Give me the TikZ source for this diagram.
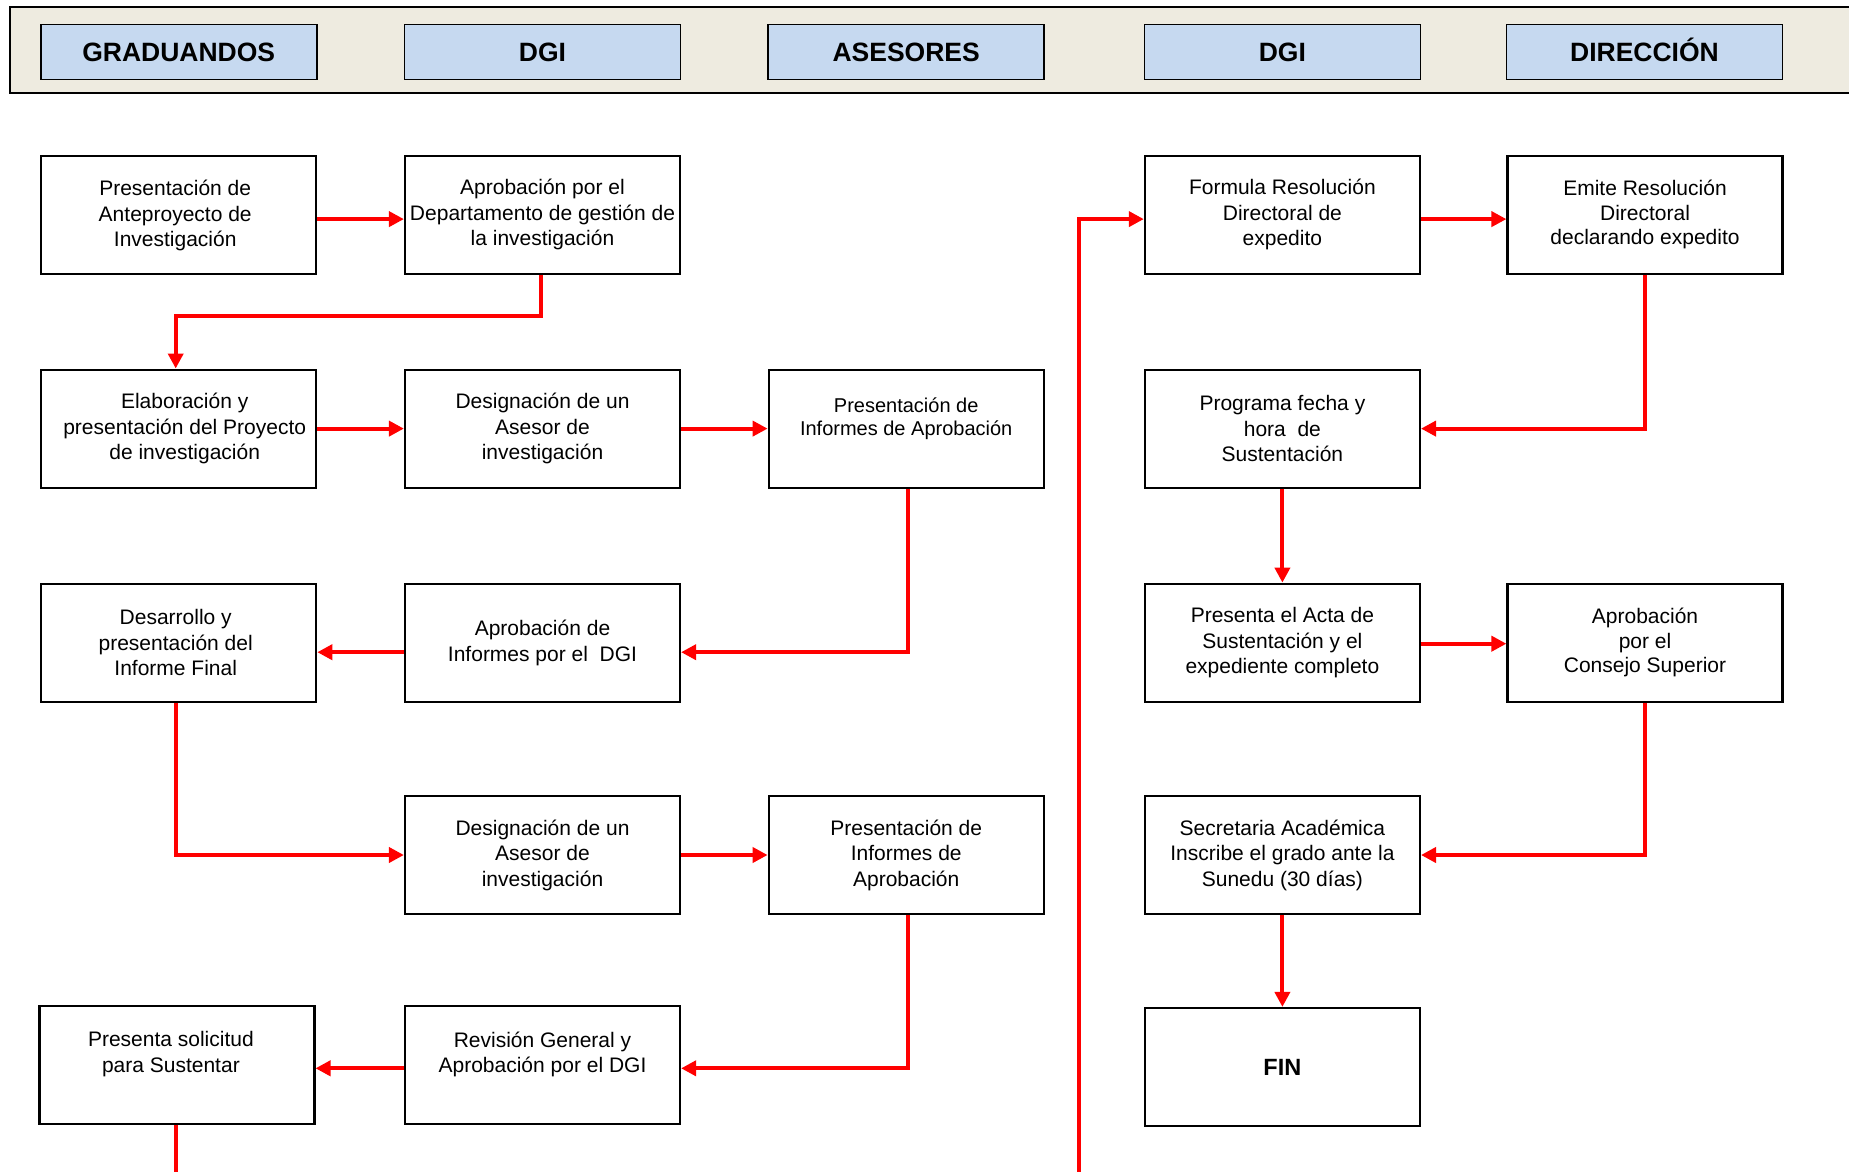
\documentclass[tikz,border=0pt]{standalone}
\usepackage{fontspec}
\setmainfont{Liberation Sans}
\usetikzlibrary{arrows.meta}
\definecolor{bandfill}{HTML}{EEEBE0}
\definecolor{headfill}{HTML}{C6D9F0}
\begin{document}
\begin{tikzpicture}[x=1pt,y=-1pt,
  box/.style={draw, line width=2.2pt, minimum width=275pt, minimum height=118pt, inner sep=0pt, align=center, font=\fontsize{21}{25.5}\selectfont},
  small/.style={font=\fontsize{20}{23.8}\selectfont},
  head/.style={draw, line width=1.8pt, fill=headfill, minimum width=276pt, minimum height=55pt, inner sep=0pt, text height=19pt, text depth=0pt, font=\fontsize{26.5}{30}\selectfont\bfseries},
  arr/.style={draw=red, line width=4pt, -{Triangle[length=15pt,width=15pt]}}]
\useasboundingbox (0,0) rectangle (1849,1172);
\clip (0,0) rectangle (1849,1172);
% header band
\draw[line width=2.5pt, fill=bandfill] (10,7) rectangle (1880,93);
\node[head] (h1) at (178.7,52) {GRADUANDOS};
\node[head] (h2) at (542.5,52) {DGI};
\node[head] (h3) at (906.2,52) {ASESORES};
\node[head] (h4) at (1282.4,52) {DGI};
\node[head] (h5) at (1644.5,52) {DIRECCIÓN};
% row 1
\node[box] (ante) at (178.7,214.6) {\\[-8pt]\hspace*{-7pt}Presentación de\\\hspace*{-7pt}Anteproyecto de\\\hspace*{-7pt}Investigación};
\node[box] (aprob) at (542.5,214.6) {Aprobación por el\\Departamento de gestión de\\la investigación};
\node[box] (form) at (1282.4,214.6) {Formula Resolución\\Directoral de\\expedito};
\node[box, font=\fontsize{21}{24.5}\selectfont] (emite) at (1645,214.6) {Emite Resolución\\Directoral\\declarando expedito};
% row 2
\node[box] (elab) at (178.7,428.6) {\hspace*{12pt}Elaboración y\\\hspace*{12pt}presentación del Proyecto\\\hspace*{12pt}de investigación};
\node[box] (desig1) at (542.5,428.6) {Designación de un\\Asesor de\\investigación};
\node[box, small] (pres1) at (906.2,428.6) {Presentación de\\Informes de Aprobación\\\mbox{}};
\node[box] (prog) at (1282.4,428.6) {Programa fecha y\\hora\ \ de\\Sustentación};
% row 3
\node[box] (desa) at (178.7,642.7) {\hspace*{-6pt}Desarrollo y\\\hspace*{-6pt}presentación del\\\hspace*{-6pt}Informe Final};
\node[box] (apinf) at (542.5,642.7) {Aprobación de\\Informes por el\ \ DGI};
\node[box] (acta) at (1282.4,642.7) {Presenta el Acta de\\Sustentación y el\\expediente completo};
\node[box, font=\fontsize{21}{24.5}\selectfont] (cons) at (1645,642.7) {Aprobación\\por el\\Consejo Superior};
% row 4
\node[box] (desig2) at (542.5,855) {Designación de un\\Asesor de\\investigación};
\node[box] (pres2) at (906.2,855) {Presentación de\\Informes de\\Aprobación};
\node[box] (secr) at (1282.4,855) {Secretaria Académica\\Inscribe el grado ante la\\Sunedu (30 días)};
% row 5
\node[box] (sol) at (176.9,1064.8) {\hspace*{-12pt}Presenta solicitud\\\hspace*{-12pt}para Sustentar\\\mbox{}};
\node[box] (rev) at (542.5,1064.8) {Revisión General y\\Aprobación por el DGI\\\mbox{}};
\node[box, font=\fontsize{23.5}{28}\selectfont\bfseries] (fin) at (1282.4,1067) {FIN};
% connectors
\coordinate (bot) at (1079,1173.5);
\draw[arr] ([yshift=-4.5pt]ante.east) -- ([yshift=-4.5pt]aprob.west);
\draw[arr] ([xshift=-1.3pt]aprob.south) -- ++(0,41.2) -| ([xshift=-3pt]elab.north);
\draw[arr] (elab.east) -- (desig1.west);
\draw[arr] (desig1.east) -- (pres1.west);
\draw[arr] ([xshift=2pt]pres1.south) |- ([yshift=-9.5pt]apinf.east);
\draw[arr] ([yshift=-9.5pt]apinf.west) -- ([yshift=-9.5pt]desa.east);
\draw[arr] ([xshift=-3pt]desa.south) |- (desig2.west);
\draw[arr] (desig2.east) -- (pres2.west);
\draw[arr] ([xshift=2pt]pres2.south) |- ([yshift=-3.5pt]rev.east);
\draw[arr] ([yshift=-3.5pt]rev.west) -- ([yshift=-3.5pt]sol.east);
\draw[arr] ([xshift=-1.2pt]sol.south) |- (bot) |- ([yshift=-4.5pt]form.west);
\draw[arr] ([yshift=-4.5pt]form.east) -- ([yshift=-4.5pt]emite.west);
\draw[arr] (emite.south) |- (prog.east);
\draw[arr] (prog.south) -- (acta.north);
\draw[arr] ([yshift=-1pt]acta.east) -- ([yshift=-1pt]cons.west);
\draw[arr] (cons.south) |- (secr.east);
\draw[arr] (secr.south) -- (fin.north);
\end{tikzpicture}
\end{document}
